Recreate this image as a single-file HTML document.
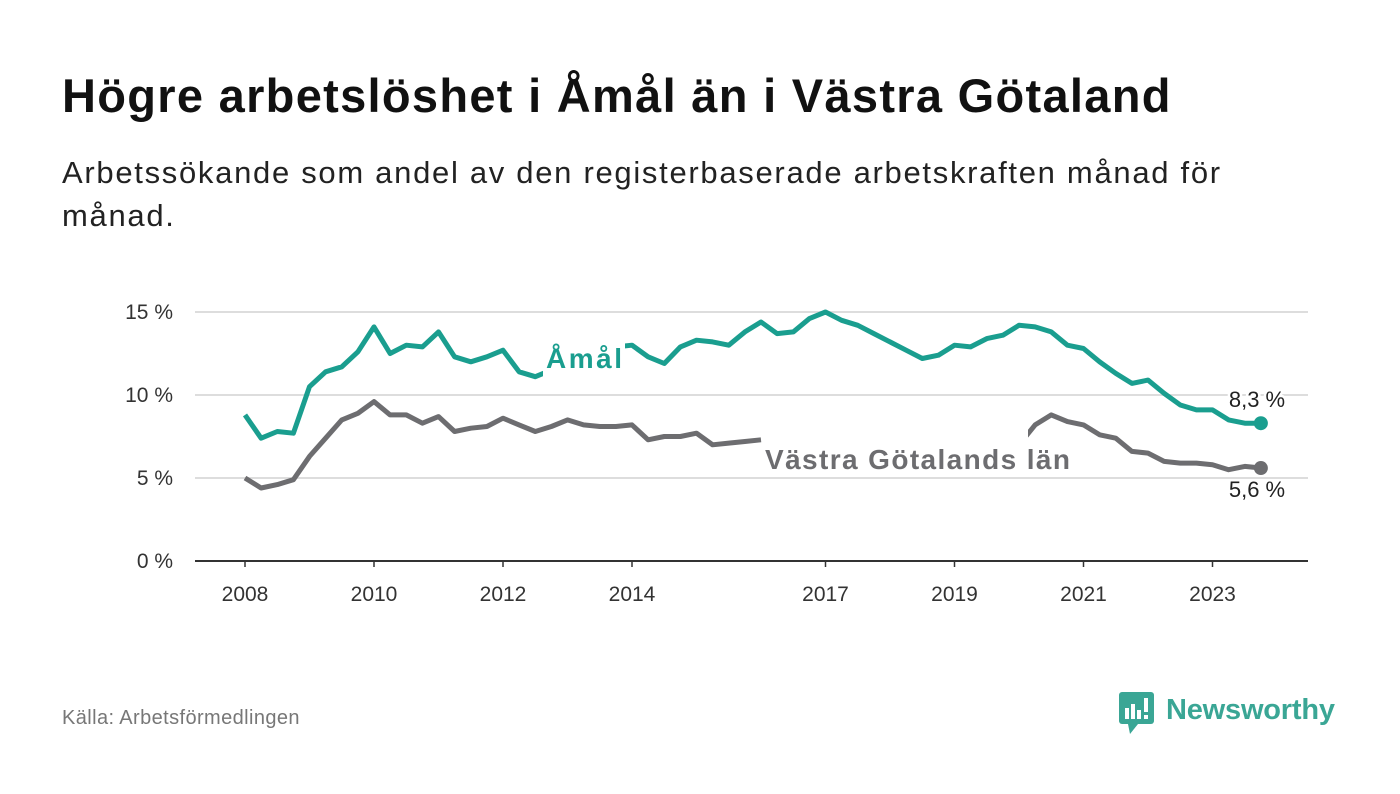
<!DOCTYPE html>
<html><head><meta charset="utf-8"><style>
body{margin:0;width:1400px;height:794px;background:#fff;font-family:"Liberation Sans",sans-serif;overflow:hidden;position:relative}
h1{position:absolute;left:62px;top:68px;margin:0;font-size:47px;font-weight:bold;color:#111;letter-spacing:1.3px;white-space:nowrap}
.sub{position:absolute;left:62px;top:151px;width:1200px;font-size:31px;line-height:43px;color:#222;letter-spacing:1.7px}
.src{position:absolute;left:62px;top:707px;font-size:20px;color:#777;letter-spacing:0.4px}
</style></head><body>
<h1>Högre arbetslöshet i Åmål än i Västra Götaland</h1>
<div class="sub">Arbetssökande som andel av den registerbaserade arbetskraften månad för månad.</div>
<div class="src">Källa: Arbetsförmedlingen</div>
<svg width="1400" height="794" style="position:absolute;left:0;top:0">
<defs><clipPath id="vclip"><rect x="1028" y="0" width="400" height="794"/><rect x="0" y="0" width="762" height="794"/></clipPath></defs>
<g id="grid"></g><g id="lines"></g><g id="labels"></g>
<g>
<rect x="1119" y="692" width="35" height="32" rx="3" fill="#3aa695"/>
<polygon points="1128,724 1138,724 1130,734" fill="#3aa695"/>
<rect x="1125" y="708" width="4" height="11" fill="#fff"/><rect x="1131" y="704" width="4" height="15" fill="#fff"/><rect x="1137" y="710" width="4" height="9" fill="#fff"/><rect x="1144" y="698" width="4" height="14" fill="#fff"/><rect x="1144" y="715" width="4" height="4" fill="#fff"/>
<text x="1166" y="719" font-size="29" font-weight="bold" fill="#3aa695" font-family="Liberation Sans, sans-serif" textLength="169">Newsworthy</text>
</g>
</svg>
<script>
const years=[2008,2010,2012,2014,2017,2019,2021,2023];
const yTicks=[0,5,10,15];
const amal=[8.8,7.4,7.8,7.7,10.5,11.4,11.7,12.6,14.1,12.5,13.0,12.9,13.8,12.3,12.0,12.3,12.7,11.4,11.1,11.5,12.5,12.8,13.0,12.9,13.0,12.3,11.9,12.9,13.3,13.2,13.0,13.8,14.4,13.7,13.8,14.6,15.0,14.5,14.2,13.7,13.2,12.7,12.2,12.4,13.0,12.9,13.4,13.6,14.2,14.1,13.8,13.0,12.8,12.0,11.3,10.7,10.9,10.1,9.4,9.1,9.1,8.5,8.3,8.3];
const vastra=[5.0,4.4,4.6,4.9,6.3,7.4,8.5,8.9,9.6,8.8,8.8,8.3,8.7,7.8,8.0,8.1,8.6,8.2,7.8,8.1,8.5,8.2,8.1,8.1,8.2,7.3,7.5,7.5,7.7,7.0,7.1,7.2,7.3,null,null,null,null,null,null,null,null,null,null,null,null,null,null,null,7.0,8.2,8.8,8.4,8.2,7.6,7.4,6.6,6.5,6.0,5.9,5.9,5.8,5.5,5.7,5.6];
const startYear=2008, step=0.25;
const X=t=>245+(t-2008)*64.5;
const Y=v=>561-v*16.6;
const NS="http://www.w3.org/2000/svg";
function mk(tag,attrs,parent,txt){const e=document.createElementNS(NS,tag);for(const k in attrs)e.setAttribute(k,attrs[k]);if(txt!==undefined)e.textContent=txt;parent.appendChild(e);return e;}
const grid=document.getElementById('grid'),lines=document.getElementById('lines'),labels=document.getElementById('labels');
yTicks.forEach(v=>{
 const l=mk('line',{x1:195,x2:1308,y1:Y(v),y2:Y(v),stroke:v===0?'#333':'#ddd','stroke-width':2},grid);
 
 
 const t=mk('text',{x:173,y:Y(v)+7,'text-anchor':'end','font-size':21,fill:'#333'},grid,v+' %');
 
 
});
years.forEach(yr=>{
 const l=mk('line',{x1:X(yr),x2:X(yr),y1:561,y2:567,stroke:'#333','stroke-width':1.5},grid);
 
 
 const t=mk('text',{x:X(yr),y:601,'text-anchor':'middle','font-size':21,fill:'#333'},grid,String(yr));
 
 
});
function path(arr){let d='',pen=false;arr.forEach((v,i)=>{if(v===null){pen=false;return;}d+=(pen?'L':'M')+X(startYear+i*step).toFixed(1)+','+Y(v).toFixed(1);pen=true;});return d;}
const pv=mk('path',{d:path(vastra),fill:'none',stroke:'#6d6d70','stroke-width':5,'stroke-linejoin':'round','clip-path':'url(#vclip)'},lines);


const pa=mk('path',{d:path(amal),fill:'none',stroke:'#1a9e8f','stroke-width':5,'stroke-linejoin':'round'},lines);


const la=amal.length-1, lx=X(startYear+la*step);
const da=mk('circle',{cx:lx,cy:Y(amal[la]),r:7,fill:'#1a9e8f'},lines);


const dv=mk('circle',{cx:lx,cy:Y(vastra[la]),r:7,fill:'#6d6d70'},lines);


const bg=mk('rect',{x:543,y:338,width:82,height:40,fill:'#fff'},labels);


const ta=mk('text',{x:546,y:368,'font-size':28,'font-weight':'bold',fill:'#1a9e8f',textLength:76},labels,'Åmål');


const tv=mk('text',{x:765,y:469,'font-size':28,'font-weight':'bold',fill:'#6d6d70',textLength:305},labels,'Västra Götalands län');


const ea=mk('text',{x:1257,y:407,'text-anchor':'middle','font-size':22,fill:'#222',stroke:'#fff','stroke-width':5,'paint-order':'stroke'},labels,String(amal[la]).replace('.',',')+' %');


const ev=mk('text',{x:1257,y:497,'text-anchor':'middle','font-size':22,fill:'#222',stroke:'#fff','stroke-width':5,'paint-order':'stroke'},labels,String(vastra[la]).replace('.',',')+' %');


</script>
</body></html>
